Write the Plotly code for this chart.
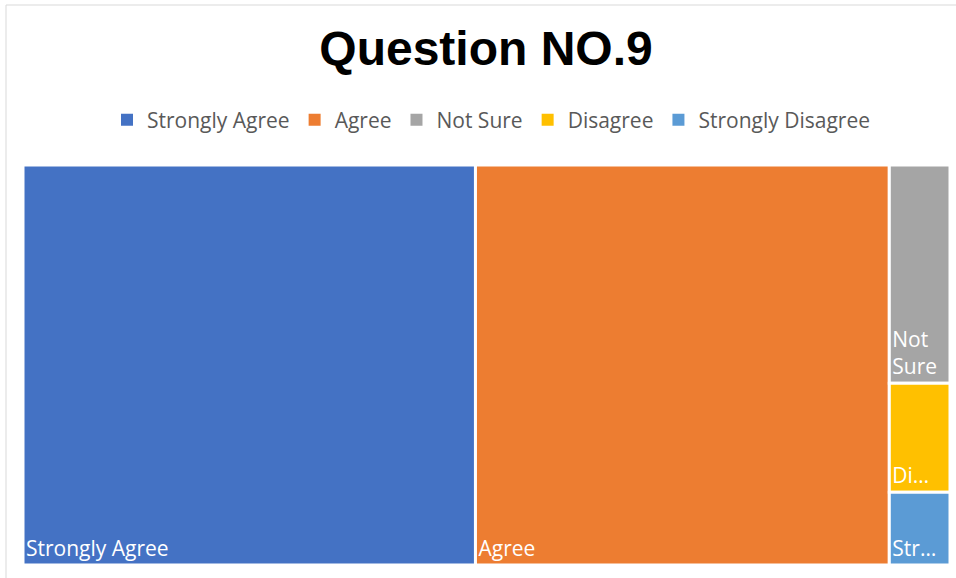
import plotly.graph_objects as go

categories = ["Strongly Agree", "Agree", "Not Sure", "Disagree", "Strongly Disagree"]
counts = [82, 75, 6, 3, 2]
tile_text = ["Strongly Agree", "Agree", "Not<br>Sure", "Di…", "Str…"]
colors = ["#4472C4", "#ED7D31", "#A5A5A5", "#FFC000", "#5B9BD5"]

W, H = 956, 578

fig = go.Figure()
fig.add_trace(go.Treemap(
    labels=categories,
    parents=[""] * len(categories),
    values=counts,
    text=tile_text,
    texttemplate="%{text}",
    textposition="bottom left",
    textfont=dict(family="Open Sans, Noto Sans, sans-serif", size=21, color="white"),
    marker=dict(colors=colors, line=dict(color="white", width=3),
                pad=dict(t=0, l=0, r=0, b=0)),
    tiling=dict(packing="squarify", pad=0),
    pathbar=dict(visible=False),
    sort=False,
    hoverinfo="skip",
    domain=dict(x=[23 / W, 950 / W], y=[1 - 565 / H, 1 - 165 / H]),
))

for name, col in zip(categories, colors):
    fig.add_trace(go.Scatter(
        x=[None], y=[None], mode="markers", name=name,
        marker=dict(symbol="square", size=12, color=col),
        hoverinfo="skip",
    ))

fig.update_layout(
    width=W, height=H,
    margin=dict(l=0, r=0, t=0, b=0),
    paper_bgcolor="white", plot_bgcolor="white",
    showlegend=True,
    title=dict(text="<b>Question NO.9</b>", x=486 / W, xanchor="center",
               y=1 - 48 / H, yanchor="middle",
               font=dict(family="Liberation Sans, Arial, sans-serif", size=48, color="black")),
    legend=dict(orientation="h", x=491 / W, xanchor="center", y=1 - 120 / H, yanchor="middle",
                font=dict(family="Open Sans, Noto Sans, sans-serif", size=21, color="#595959"),
                itemsizing="constant", bgcolor="rgba(0,0,0,0)"),
    xaxis=dict(visible=False), yaxis=dict(visible=False),
    shapes=[dict(type="rect", xref="paper", yref="paper",
                 x0=6 / W, x1=1.05, y0=-0.05, y1=1 - 5 / H,
                 line=dict(color="#D9D9D9", width=1), fillcolor="rgba(0,0,0,0)", layer="below")],
)

fig.write_html("out.html", config={"displayModeBar": False},
               post_script="document.body.style.margin='0';")
